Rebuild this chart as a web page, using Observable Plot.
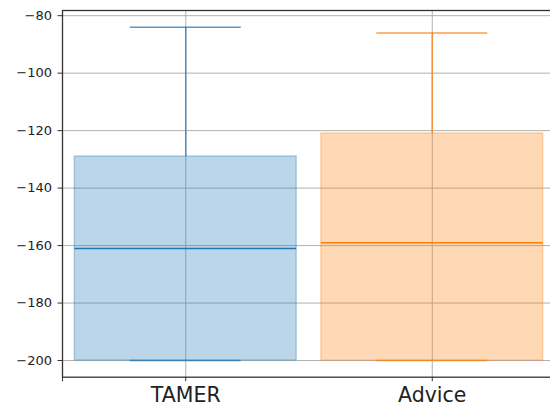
<!DOCTYPE html>
<html>
<head>
<meta charset="utf-8">
<script src="https://cdn.jsdelivr.net/npm/d3@7"></script>
<script src="https://cdn.jsdelivr.net/npm/@observablehq/plot@0.6"></script>
<style>
  html, body { margin: 0; padding: 0; background: #fff; }
  #chart svg { display: block; }
</style>
</head>
<body>
<div id="chart"></div>
<script>
// Box summaries per condition
const categories   = ["TAMER", "Advice"];
const colors       = ["#1f77b4", "#ff7f0e"];
const whiskerHigh  = [-84, -86];
const boxTop       = [-129, -121];
const medians      = [-161, -159];
const boxBottom    = [-200, -200];
const whiskerLow   = [-200, -200];
const yTicks       = [-200, -180, -160, -140, -120, -100, -80];

const rows = categories.map((name, i) => ({
  name,
  pos: i + 1,
  color: colors[i],
  hi: whiskerHigh[i],
  q3: boxTop[i],
  med: medians[i],
  q1: boxBottom[i],
  lo: whiskerLow[i]
}));

const half = 0.45;      // half box width
const capHalf = 0.225;  // half cap width
const minus = d => (d < 0 ? "\u2212" + Math.abs(d) : String(d));

const chart = Plot.plot({
  width: 550,
  height: 410,
  marginLeft: 62,
  marginRight: -5,
  marginTop: 10,
  marginBottom: 33.3,
  style: { fontFamily: "DejaVu Sans", color: "#222", background: "#fff" },
  x: { type: "linear", domain: [0.5, 2.5], axis: null },
  y: { domain: [-205.8, -78.2], axis: null },
  color: { type: "identity" },
  marks: [
    Plot.gridY({ ticks: yTicks, stroke: "#b0b0b0", strokeOpacity: 1, strokeWidth: 1 }),
    Plot.gridX({ ticks: [1, 2], stroke: "#b0b0b0", strokeOpacity: 1, strokeWidth: 1 }),
    Plot.rect(rows, {
      x1: d => d.pos - half, x2: d => d.pos + half,
      y1: "q1", y2: "q3",
      fill: "color", fillOpacity: 0.3,
      stroke: "color", strokeOpacity: 0.3, strokeWidth: 1.5
    }),
    Plot.ruleX(rows, { x: "pos", y1: "q3", y2: "hi", stroke: "color", strokeOpacity: 0.75, strokeWidth: 1.5 }),
    Plot.ruleX(rows, { x: "pos", y1: "lo", y2: "q1", stroke: "color", strokeOpacity: 0.75, strokeWidth: 1.5 }),
    Plot.ruleY(rows, { y: "hi", x1: d => d.pos - capHalf, x2: d => d.pos + capHalf, stroke: "color", strokeOpacity: 0.75, strokeWidth: 1.5 }),
    Plot.ruleY(rows, { y: "lo", x1: d => d.pos - capHalf, x2: d => d.pos + capHalf, stroke: "color", strokeOpacity: 0.75, strokeWidth: 1.5 }),
    Plot.ruleY(rows, { y: "med", x1: d => d.pos - half, x2: d => d.pos + half, stroke: "color", strokeWidth: 1.5 }),
    Plot.frame({ stroke: "#333", strokeWidth: 1.3 }),
    Plot.axisY({
      ticks: yTicks, tickFormat: minus, tickSize: 4.5, tickPadding: 6,
      fontSize: 13, label: null, stroke: "#333"
    }),
    Plot.axisX({
      ticks: [0.5, 1, 2], tickFormat: d => (Number.isInteger(d) ? categories[d - 1] : ""),
      tickSize: 4.5, tickPadding: 6, fontSize: 20.5, label: null, stroke: "#333"
    })
  ]
});

document.getElementById("chart").appendChild(chart);
</script>
</body>
</html>
